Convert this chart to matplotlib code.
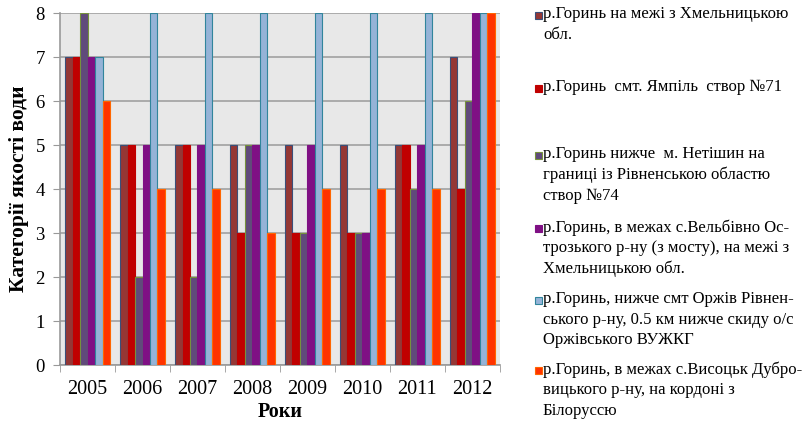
import numpy as np
import matplotlib.pyplot as plt
from matplotlib.patches import Rectangle

plt.rcParams['font.family'] = ['Liberation Serif', 'DejaVu Serif']

years = ['2005', '2006', '2007', '2008', '2009', '2010', '2011', '2012']
labels = [
    'р.Горинь на межі з Хмельницькою\nобл.',
    'р.Горинь  смт. Ямпіль  створ №71',
    'р.Горинь нижче  м. Нетішин на\nграниці із Рівненською областю\nствор №74',
    'р.Горинь, в межах с.Вельбівно Ос-\nтрозького р-ну (з мосту), на межі з\nХмельницькою обл.',
    'р.Горинь, нижче смт Оржів Рівнен-\nського р-ну, 0.5 км нижче скиду о/с\nОржівського ВУЖКГ',
    'р.Горинь, в межах с.Висоцьк Дубро-\nвицького р-ну, на кордоні з\nБілоруссю',
]
s1 = [7, 5, 5, 5, 5, 5, 5, 7]
s2 = [7, 5, 5, 3, 3, 3, 5, 4]
s3 = [8, 2, 2, 5, 3, 3, 4, 6]
s4 = [7, 5, 5, 5, 5, 3, 5, 8]
s5 = [7, 8, 8, 8, 8, 8, 8, 8]
s6 = [6, 4, 4, 3, 4, 4, 4, 8]
series = [s1, s2, s3, s4, s5, s6]

colors = ['#953735', '#C00000', '#604A7B', '#7F1084', '#95B3D7', '#FF3300']
edges = ['#3A4F7A', '#C00000', '#76923C', '#7F1084', '#31859C', '#FF6600']

fig = plt.figure(figsize=(8.02, 4.25), dpi=100)
ax = fig.add_axes([0.075, 0.141, 0.548, 0.828])
ax.set_facecolor('#E8E8E8')

x = np.arange(len(years))
w = 0.136
for i, s in enumerate(series):
    ax.bar(x + (i - 2.5) * w, s, w, color=colors[i], edgecolor=edges[i], linewidth=0.8, zorder=3)

ax.set_xlim(-0.5, len(years) - 0.5)
ax.set_ylim(0, 8)
ax.set_yticks(range(0, 9))
ax.set_xticks(x)
ax.set_xticklabels(years)
ax.set_xticks(np.arange(-0.5, len(years)), minor=True)
ax.tick_params(axis='x', which='major', length=0, labelsize=14.5, pad=11)
ax.tick_params(axis='x', which='minor', length=5, color='#999999')
ax.tick_params(axis='y', length=5, color='#999999', labelsize=13.5, pad=6)
ax.grid(axis='y', color='#A0A0A0', linewidth=1.2, zorder=0)
for sp in ['top', 'right']:
    ax.spines[sp].set_visible(False)
ax.spines['left'].set_color('#999999')
ax.spines['bottom'].set_color('#999999')
ax.spines['left'].set_linewidth(1.2)
ax.spines['bottom'].set_linewidth(1.2)

ax.set_xlabel('Роки', fontsize=14.5, fontweight='bold', labelpad=2)
ax.set_ylabel('Категорії якості води', fontsize=15.5, fontweight='bold', labelpad=5)

# legend, placed by hand like the Excel one
tops = [15, 88, 155, 228, 300, 370]
for i, lab in enumerate(labels):
    ypx = tops[i]
    fig.patches.append(Rectangle((535 / 802, 1 - (ypx + 4) / 425), 7 / 802, 7 / 425,
                                 transform=fig.transFigure, facecolor=colors[i],
                                 edgecolor=edges[i], linewidth=0.8))
    fig.text(543 / 802, 1 - (ypx - 9) / 425, lab, fontsize=12, va='top', ha='left',
             linespacing=1.38)

fig.savefig('out.png', dpi=100)
